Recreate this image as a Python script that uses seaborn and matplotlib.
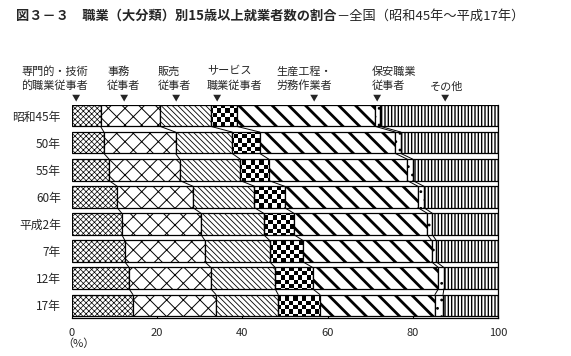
import numpy as np
import pandas as pd
import matplotlib.pyplot as plt
import seaborn as sns

# 職業（大分類）別15歳以上就業者数の割合（%）
years = ['昭和45年', '50年', '55年', '60年', '平成2年', '7年', '12年', '17年']
occupations = ['専門的・技術的職業従事者', '事務従事者', '販売従事者', 'サービス職業従事者',
               '生産工程・労務作業者', '保安職業従事者', 'その他']
senmon = [6.7, 7.5, 8.7, 10.6, 11.7, 12.4, 13.4, 14.3]
jimu = [14.0, 16.8, 16.6, 17.8, 18.6, 18.8, 19.2, 19.5]
hanbai = [11.9, 13.3, 14.2, 14.4, 14.7, 15.2, 15.1, 14.6]
service = [6.1, 6.5, 6.7, 7.1, 7.1, 7.8, 8.8, 9.8]
seisan = [32.5, 31.8, 32.5, 31.3, 31.3, 30.2, 29.5, 27.0]
hoan = [1.2, 1.3, 1.3, 1.4, 1.2, 1.1, 1.3, 1.9]
sonota = [27.6, 22.8, 20.0, 17.4, 15.4, 14.5, 12.7, 12.9]

header_labels = ['専門的・技術\n的職業従事者', '事務\n従事者', '販売\n従事者', 'サービス\n職業従事者',
                 '生産工程・\n労務作業者', '保安職業\n従事者', 'その他']

df = pd.DataFrame(dict(zip(occupations, [senmon, jimu, hanbai, service, seisan, hoan, sonota])),
                  index=years)

sns.set_theme(style='ticks')
plt.rcParams['font.family'] = ['Noto Sans CJK JP', 'DejaVu Sans']

# hatch, hatch linewidth, hatch colour for each category (サービス gets a checker texture)
hatches = ['xxxxxx', 'xx', '\\\\\\\\\\\\', None, '\\\\', '..', '|||||']
hatch_lw = [0.5, 0.7, 0.6, 1.0, 2.0, 0.8, 1.0]
hatch_col = ['black', 'black', '#555555', 'black', 'black', 'black', 'black']

W, H = 571, 356
fig = plt.figure(figsize=(W / 100, H / 100), dpi=100)
ax = fig.add_axes([72 / W, 1 - 318 / H, (498 - 72) / W, (318 - 105) / H])

h = 0.79
y = np.arange(len(years))
left = np.zeros(len(years))
containers = []
for occ, hat, hl, hc in zip(occupations, hatches, hatch_lw, hatch_col):
    vals = df[occ].values
    bars = ax.barh(y, vals, left=left, height=h, color='white', edgecolor='black',
                   linewidth=0.9, hatch=hat)
    for p in bars:
        try:
            p.set_hatch_linewidth(hl)
            p.set_hatchcolor(hc)
        except AttributeError:
            pass
    containers.append(bars)
    left = left + vals

ylim = (7 + h / 2 + 0.075, -h / 2)

# checkerboard fill for サービス職業従事者
checker = np.indices((50, 100)).sum(axis=0) % 2
for p in containers[3]:
    p.set_facecolor('none')
    im = ax.imshow(checker, cmap='gray_r', extent=(0, 100, ylim[0], ylim[1]),
                   aspect='auto', interpolation='nearest', zorder=0.5)
    im.set_clip_path(p)

# connector lines between bars
cum = df.cumsum(axis=1).values
for k in range(len(occupations) - 1):
    for i in range(len(years) - 1):
        ax.plot([cum[i, k], cum[i + 1, k]], [i + h / 2, i + 1 - h / 2],
                color='black', lw=0.7)

ax.set_xlim(0, 100)
ax.set_ylim(*ylim)
ax.set_xticks(range(0, 101, 20))
ax.set_yticks(y, years)
ax.tick_params(axis='x', direction='in', length=2.5, width=0.8, labelsize=8, pad=7, color='black')
ax.tick_params(axis='y', length=0, labelsize=8.5, pad=8)
for s in ['top', 'left']:
    ax.spines[s].set_visible(False)
for s in ['right', 'bottom']:
    ax.spines[s].set_color('black')
    ax.spines[s].set_linewidth(0.9)

# header labels with arrows
label_px = [21, 107, 158, 207, 276, 372, 430]
arrow_px = [76, 124, 176, 217, 314, 377, 445]
for lab, lx, axp in zip(header_labels, label_px, arrow_px):
    yy = 78.5 if '\n' in lab else 87
    fig.text(lx / W, 1 - yy / H, lab, ha='left', va='center', fontsize=8, linespacing=1.45)
    fig.text(axp / W, 1 - 98 / H, '▼', ha='center', va='center', fontsize=6)

t1 = fig.text(16 / W, 1 - 16 / H, '図３－３　職業（大分類）別15歳以上就業者数の割合',
              ha='left', va='center', fontsize=9.5, fontweight='bold')
ax.annotate('－全国（昭和45年～平成17年）', xy=(1, 0.5), xycoords=t1,
            ha='left', va='center', fontsize=9.5)

fig.text(62 / W, 1 - 344 / H, '（%）', ha='left', va='center', fontsize=8)

fig.savefig('out.png', dpi=100)
